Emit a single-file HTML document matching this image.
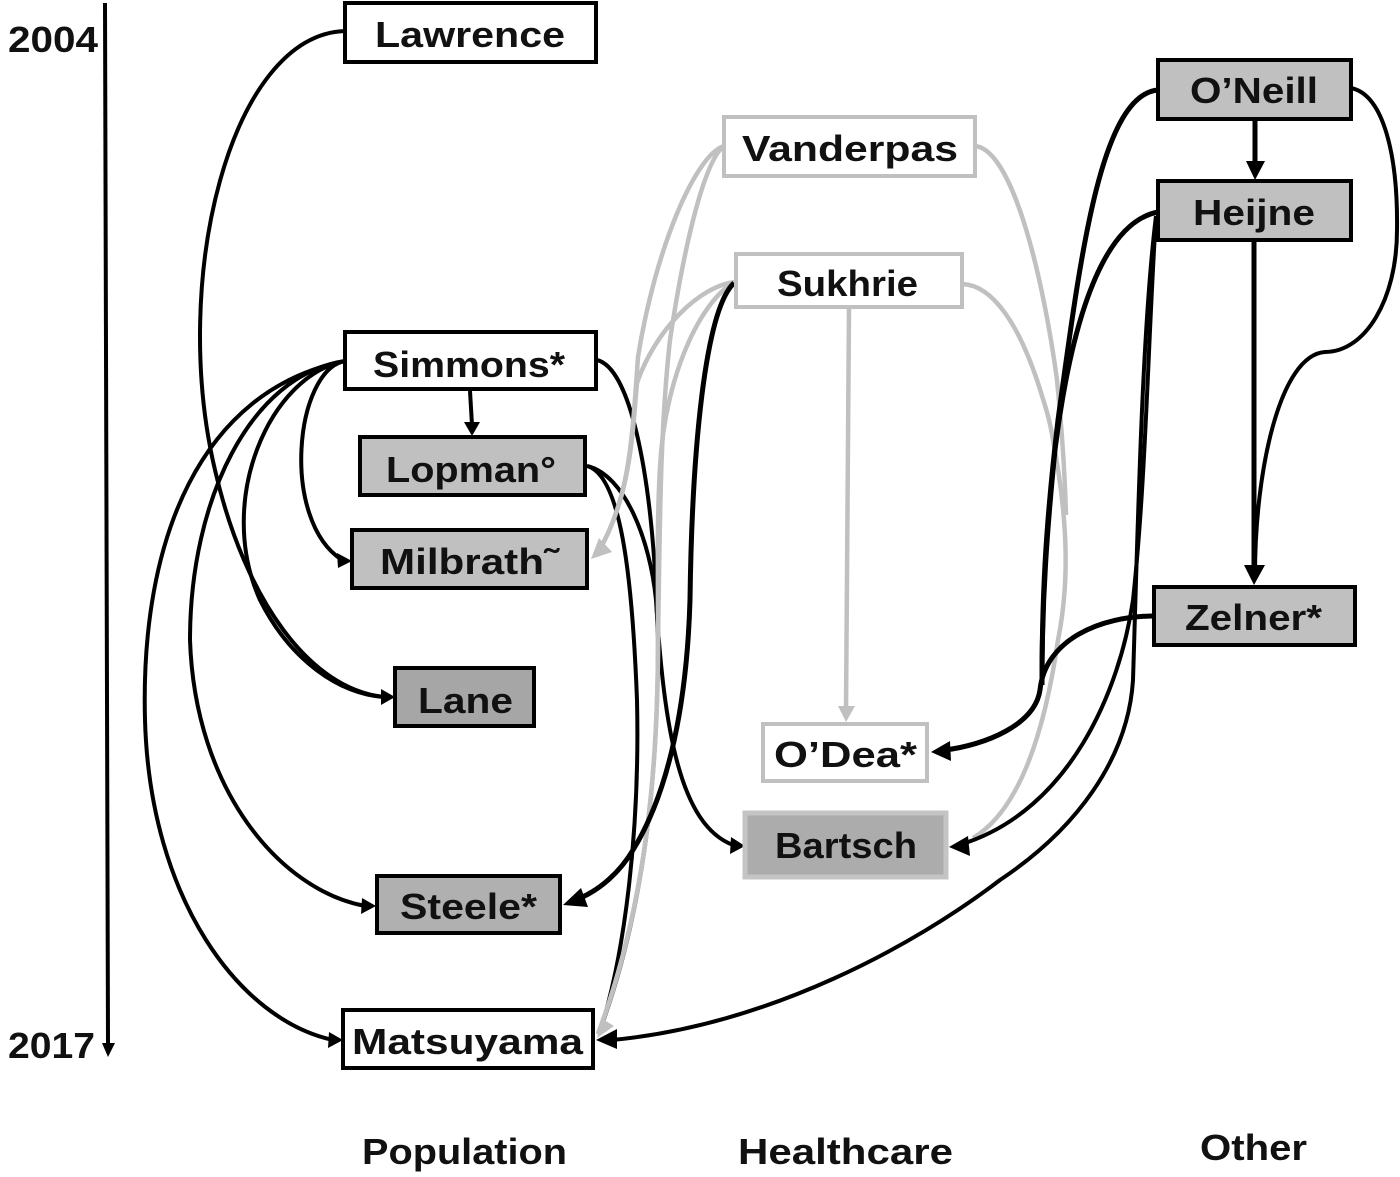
<!DOCTYPE html>
<html><head><meta charset="utf-8"><style>
html,body{margin:0;padding:0;background:#fff}
svg{display:block}
text{font-family:"Liberation Sans",sans-serif;font-weight:bold;font-size:36px;fill:#111}
.k{fill:none;stroke:#000;stroke-width:4}
.K{fill:none;stroke:#000;stroke-width:5}
.g{fill:none;stroke:#c0c0c0;stroke-width:4.5}
</style></head><body>
<svg width="1400" height="1177" viewBox="0 0 1400 1177" xmlns="http://www.w3.org/2000/svg">
<rect width="1400" height="1177" fill="#fff"/>

<!-- axis -->
<path d="M105,3 L108,1045" class="k"/>
<polygon points="102,1043 115,1043 108,1057" fill="#000"/>

<!-- black connectors under the gray ones -->
<path class="k" d="M597,360 C630,368 650,470 656,590 L658,640 C658,760 648,900 600,1030"/>
<path class="k" d="M587,466 C625,475 650,540 656,600 C664,730 680,825 733,845"/>
<path class="k" d="M587,466 C620,475 632,570 637,700 C640,830 625,950 602,1025"/>

<!-- gray connectors -->
<path class="g" d="M724,146 C695,155 655,250 638,357 C632,440 630,500 596,556"/>
<path class="g" d="M736,282 C700,285 655,330 637,383 C632,440 630,500 596,556"/>
<path class="g" d="M724,146 C705,160 685,240 670,340 C660,430 660,520 658,640 C658,760 648,900 598,1034"/>
<path class="g" d="M736,282 C705,295 665,370 660,467 C657,520 658,560 658,640 C658,760 648,900 598,1034"/>
<path class="g" d="M975,146 C1015,150 1045,290 1057,380 C1063,440 1065,480 1066,515"/>
<path class="g" d="M962,284 C995,285 1020,330 1037,380 C1045,405 1050,420 1053,440 C1070,530 1068,590 1058,640 C1045,730 1020,810 973,838"/>
<path class="g" d="M849,307 L846,710"/>
<polygon points="838,706 855,706 846,722" fill="#c0c0c0"/>
<polygon points="591,559 599,538 612,552" fill="#c0c0c0"/>
<polygon points="597,1038 601,1018 614,1026" fill="#c0c0c0"/>

<!-- black connectors left -->
<path class="k" d="M345,31 C230,35 170,280 215,470 C245,600 310,690 385,697"/>
<path class="k" d="M345,361 C295,370 280,520 342,560"/>
<path class="k" d="M345,361 C270,375 215,500 260,600 C290,660 340,695 385,697"/>
<path class="k" d="M345,361 C250,375 190,500 190,640 C195,790 280,890 365,906"/>
<path class="k" d="M345,361 C200,390 140,540 145,720 C150,900 240,1020 333,1040"/>
<path class="k" d="M470,391 L472,425"/>
<polygon points="464,422 480,422 472,436" fill="#000"/>
<polygon points="352,561 337,553 338,568" fill="#000"/>
<polygon points="395,697 381,689 381,705" fill="#000"/>
<polygon points="376,906 362,898 361,914" fill="#000"/>
<polygon points="343,1040 329,1032 328,1048" fill="#000"/>

<!-- Sukhrie to Steele -->
<path class="K" d="M734,283 C705,310 692,450 690,600 C687,700 670,790 633,850 C620,872 600,890 578,899"/>
<polygon points="563,905 581,888 588,907" fill="#000"/>
<polygon points="745,846 731,837 730,854" fill="#000"/>

<!-- right black -->
<path class="K" d="M1158,90 C1100,95 1080,260 1058,420 C1045,530 1042,600 1042,685"/>
<path class="K" d="M1158,212 C1090,225 1065,370 1055,450 C1047,530 1042,600 1042,680"/>
<path class="K" d="M1154,616 C1100,616 1045,640 1040,690 C1035,725 985,745 945,750"/>
<polygon points="931,752 950,741 951,761" fill="#000"/>
<path class="k" d="M1156,216 C1148,340 1146,480 1133,600 C1120,690 1070,810 962,844"/>
<polygon points="949,847 968,836 970,856" fill="#000"/>
<path class="k" d="M1156,216 C1142,330 1138,520 1133,680 C1128,760 1075,830 1000,880 C915,945 770,1025 612,1040"/>
<polygon points="596,1040 617,1029 617,1049" fill="#000"/>
<path class="k" d="M1351,88 C1385,95 1398,160 1397,230 C1397,300 1365,352 1325,352 C1280,355 1255,470 1255,575"/>
<path class="K" d="M1255,120 L1255,165"/>
<polygon points="1246,161 1265,161 1255,180" fill="#000"/>
<path class="K" d="M1254,240 L1254,570"/>
<polygon points="1244,565 1265,565 1254,585" fill="#000"/>

<!-- boxes -->
<g stroke="#000" stroke-width="4">
<rect x="345" y="3" width="251" height="59" fill="#fff"/>
<rect x="1158" y="60" width="193" height="59" fill="#c0c0c0"/>
<rect x="1158" y="181" width="193" height="59" fill="#c0c0c0"/>
<rect x="345" y="332" width="251" height="57" fill="#fff"/>
<rect x="360" y="437" width="225" height="58" fill="#c0c0c0"/>
<rect x="352" y="530" width="235" height="58" fill="#c0c0c0"/>
<rect x="395" y="668" width="139" height="58" fill="#a6a6a6"/>
<rect x="1154" y="587" width="201" height="58" fill="#c0c0c0"/>
<rect x="377" y="876" width="183" height="57" fill="#b0b0b0"/>
<rect x="343" y="1010" width="250" height="58" fill="#fff"/>
</g>
<g stroke="#c0c0c0" stroke-width="4" fill="#fff">
<rect x="724" y="117" width="251" height="59"/>
<rect x="736" y="254" width="226" height="53"/>
<rect x="763" y="724" width="164" height="57"/>
</g>
<rect x="745" y="813" width="201" height="64" fill="#acacac" stroke="#c4c4c4" stroke-width="5"/>

<!-- labels -->
<text x="375" y="47" textLength="190" lengthAdjust="spacingAndGlyphs">Lawrence</text>
<text x="1190" y="103" textLength="128" lengthAdjust="spacingAndGlyphs">O’Neill</text>
<text x="742" y="161" textLength="216" lengthAdjust="spacingAndGlyphs">Vanderpas</text>
<text x="1193" y="225" textLength="122" lengthAdjust="spacingAndGlyphs">Heijne</text>
<text x="777" y="296" textLength="141" lengthAdjust="spacingAndGlyphs">Sukhrie</text>
<text x="373" y="377" textLength="192" lengthAdjust="spacingAndGlyphs">Simmons*</text>
<text x="386" y="482" textLength="170" lengthAdjust="spacingAndGlyphs">Lopman°</text>
<text x="380" y="574" textLength="178" lengthAdjust="spacingAndGlyphs">Milbrath˜</text>
<text x="418" y="713" textLength="95" lengthAdjust="spacingAndGlyphs">Lane</text>
<text x="1185" y="630" textLength="137" lengthAdjust="spacingAndGlyphs">Zelner*</text>
<text x="774" y="767" textLength="143" lengthAdjust="spacingAndGlyphs">O’Dea*</text>
<text x="775" y="858" textLength="142" lengthAdjust="spacingAndGlyphs">Bartsch</text>
<text x="400" y="919" textLength="137" lengthAdjust="spacingAndGlyphs">Steele*</text>
<text x="352" y="1054" textLength="231" lengthAdjust="spacingAndGlyphs">Matsuyama</text>
<text x="8" y="52" textLength="90" lengthAdjust="spacingAndGlyphs">2004</text>
<text x="8" y="1058" textLength="87" lengthAdjust="spacingAndGlyphs">2017</text>
<text x="362" y="1164" textLength="205" lengthAdjust="spacingAndGlyphs">Population</text>
<text x="738" y="1164" textLength="215" lengthAdjust="spacingAndGlyphs">Healthcare</text>
<text x="1200" y="1160" textLength="107" lengthAdjust="spacingAndGlyphs">Other</text>
</svg>
</body></html>
